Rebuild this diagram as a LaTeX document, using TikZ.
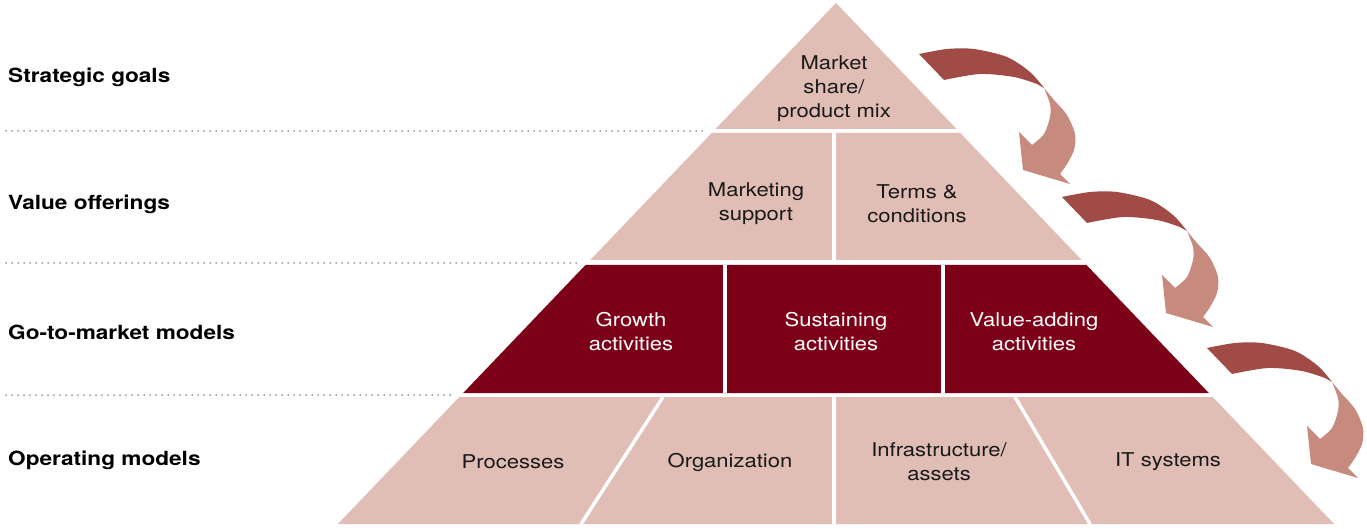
\documentclass[tikz,border=0pt]{standalone}
\usepackage{fontspec}
\setmainfont{TeX Gyre Heros}[FakeStretch=1.16]
\definecolor{tierpink}{HTML}{E0BEB5}
\definecolor{tiermaroon}{HTML}{7D0019}
\definecolor{arrowdark}{HTML}{A04B46}
\definecolor{arrowlight}{HTML}{C68A7E}
\definecolor{guidegray}{HTML}{444444}
\tikzset{
  tier/.style={fill=tierpink},
  hottier/.style={fill=tiermaroon},
  cut/.style={white, line width=3.5pt},
  guide/.style={guidegray, line width=1.5pt, line cap=round, dash pattern=on 0pt off 6pt},
  celltext/.style={align=center, text=black!90, font=\fontsize{19}{24}\selectfont},
  hottext/.style={celltext, text=white},
  rowlabel/.style={anchor=west, inner sep=0pt, font=\bfseries\fontsize{19.5}{24}\selectfont}
}
\begin{document}
\begin{tikzpicture}[x=1pt,y=-1pt]
  \useasboundingbox (0,0) rectangle (1367,529);
  % tiers of the pyramid
  \fill[tier] (836,3) -- (956.5,129) -- (715.5,129) -- cycle;
  \fill[tier] (711.7,133) -- (960.3,133) -- (1081.7,260) -- (590.3,260) -- cycle;
  \fill[hottier] (585.5,265) -- (1086.5,265) -- (1208.8,393) -- (463.2,393) -- cycle;
  \fill[tier] (459.3,397) -- (1212.7,397) -- (1334.1,524) -- (337.9,524) -- cycle;
  % dividers
  \draw[cut] (834,133) -- (834,260);
  \draw[cut] (725,265) -- (725,393);
  \draw[cut] (943,265) -- (943,393);
  \draw[cut] (663,397) -- (581,524);
  \draw[cut] (834,397) -- (834,524);
  \draw[cut] (1015,397) -- (1090,524);
  % dotted guides
  \draw[guide] (6,131) -- (706,131);
  \draw[guide] (6,263) -- (581,263);
  \draw[guide] (6,395) -- (455,395);
  % row labels
  \node[rowlabel] (goals) at (8,77) {Strategic goals};
  \node[rowlabel] (offers) at (8,204) {Value offerings};
  \node[rowlabel] (gtm) at (8,332) {Go-to-market models};
  \node[rowlabel] (opmodels) at (8,460) {Operating models};
  % cell texts
  \node[celltext] (share) at (834,88.5) {Market\\share/\\product mix};
  \node[celltext] (mktsupport) at (756,203.5) {Marketing\\support};
  \node[celltext] (terms) at (917,203.5) {Terms \&\\conditions};
  \node[hottext] (growth) at (631,331.5) {Growth\\activities};
  \node[hottext] (sustain) at (836,331.5) {Sustaining\\activities};
  \node[hottext] (valueadd) at (1034,331.5) {Value-adding\\activities};
  \node[celltext] (processes) at (513,462) {Processes};
  \node[celltext] (org) at (730,462) {Organization};
  \node[celltext] (infra) at (939,461.5) {Infrastructure/\\assets};
  \node[celltext] (itsys) at (1168,462) {IT systems};
  % curled arrows
  \foreach \dx/\dy in {-143/-143, 0/0, 145/151}{
    \begin{scope}[shift={(\dx,\dy)}]
      \fill[arrowlight] plot[smooth] coordinates {(1187,231) (1197,243) (1210,258) (1218,277) (1217,293) (1210,307) (1203,317)}
        -- (1213,327) -- (1166,313) -- (1162,275)
        -- plot[smooth] coordinates {(1175,288) (1187,277) (1193,260) (1193,247) (1187,231)} -- cycle;
      \fill[arrowdark] plot[smooth] coordinates {(1062,197) (1090,192) (1117,192) (1150,200) (1173,215) (1187,231)}
        -- plot[smooth] coordinates {(1180,227) (1157,220) (1123,217) (1087,223)} -- cycle;
    \end{scope}
  }
\end{tikzpicture}
\end{document}
